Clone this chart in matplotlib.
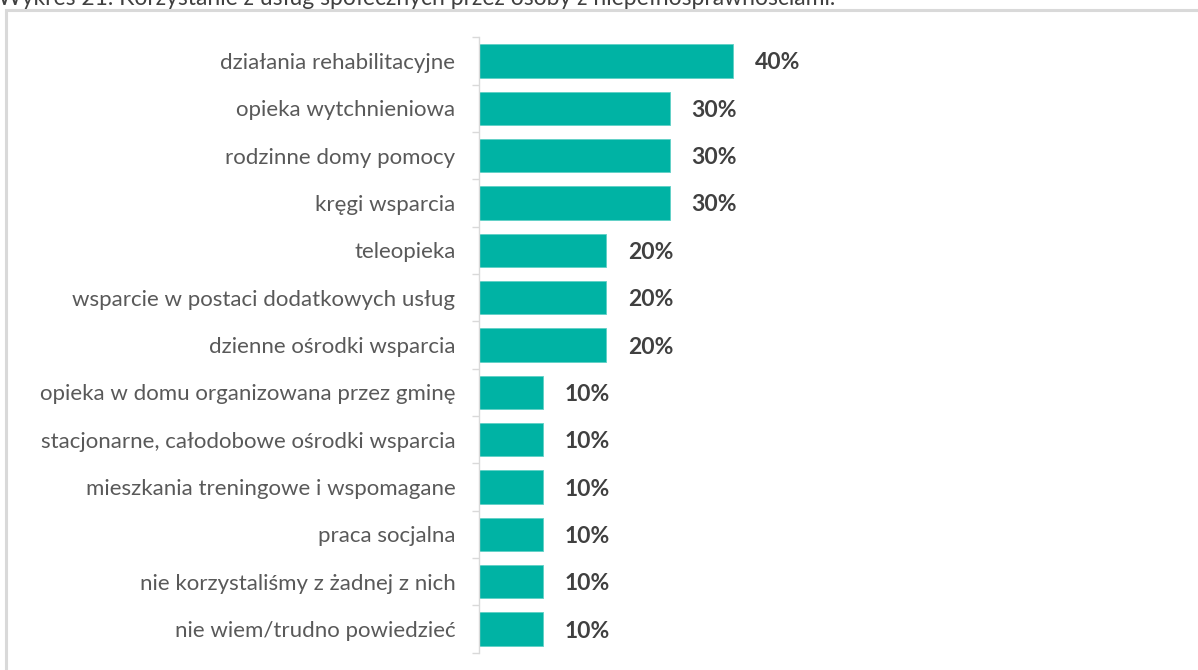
import matplotlib.pyplot as plt
from matplotlib.patches import Rectangle

# dane z wykresu
kategorie = [
    'działania rehabilitacyjne',
    'opieka wytchnieniowa',
    'rodzinne domy pomocy',
    'kręgi wsparcia',
    'teleopieka',
    'wsparcie w postaci dodatkowych usług',
    'dzienne ośrodki wsparcia',
    'opieka w domu organizowana przez gminę',
    'stacjonarne, całodobowe ośrodki wsparcia',
    'mieszkania treningowe i wspomagane',
    'praca socjalna',
    'nie korzystaliśmy z żadnej z nich',
    'nie wiem/trudno powiedzieć',
]
wartosci = [40, 30, 30, 30, 20, 20, 20, 10, 10, 10, 10, 10, 10]
tytul = 'Wykres 21. Korzystanie z usług społecznych przez osoby z niepełnosprawnościami.'

W, H = 1198, 670
plt.rcParams['font.family'] = ['Lato', 'DejaVu Sans']

fig = plt.figure(figsize=(W / 100, H / 100), dpi=100)

# ramka i obcięty tytuł (jak w oryginale)
fig.patches.append(Rectangle((6 / W, -0.1), 1.2, (H - 9.5) / H + 0.1,
                             transform=fig.transFigure, fill=False,
                             edgecolor='#d9d9d9', linewidth=2.2))
fig.text(-2 / W, 1 - 5 / H, tytul, fontsize=16.5, color='#404040',
         va='baseline', ha='left')

x0, y_top, y_bot = 479, 37.3, 652.7
px_per_10 = 63.5
ax = fig.add_axes([x0 / W, 1 - y_bot / H, (px_per_10 * 10) / W, (y_bot - y_top) / H])

y = list(range(len(kategorie)))
ax.barh(y, wartosci, height=0.70, color='#00b3a4', edgecolor='#5fd0c6', linewidth=0.6)

for yi, v in zip(y, wartosci):
    ax.annotate(f'{v}%', (v, yi), xytext=(16, 0), textcoords='offset points',
                va='center_baseline', ha='left', fontsize=16.5, fontweight='bold',
                color='#404040')

ax.set_xlim(0, 100)
ax.set_ylim(len(kategorie) - 0.5, -0.5)
ax.set_yticks(y)
ax.set_yticklabels(kategorie, fontsize=16, color='#595959')
ax.set_yticks([i - 0.5 for i in range(len(kategorie) + 1)], minor=True)
ax.tick_params(axis='y', which='major', length=0, pad=17)
ax.tick_params(axis='y', which='minor', length=5, color='#d9d9d9', width=1)
ax.set_xticks([])
for s in ['top', 'right', 'bottom']:
    ax.spines[s].set_visible(False)
ax.spines['left'].set_color('#d9d9d9')
ax.spines['left'].set_linewidth(1)

fig.savefig('out.png', dpi=100)
